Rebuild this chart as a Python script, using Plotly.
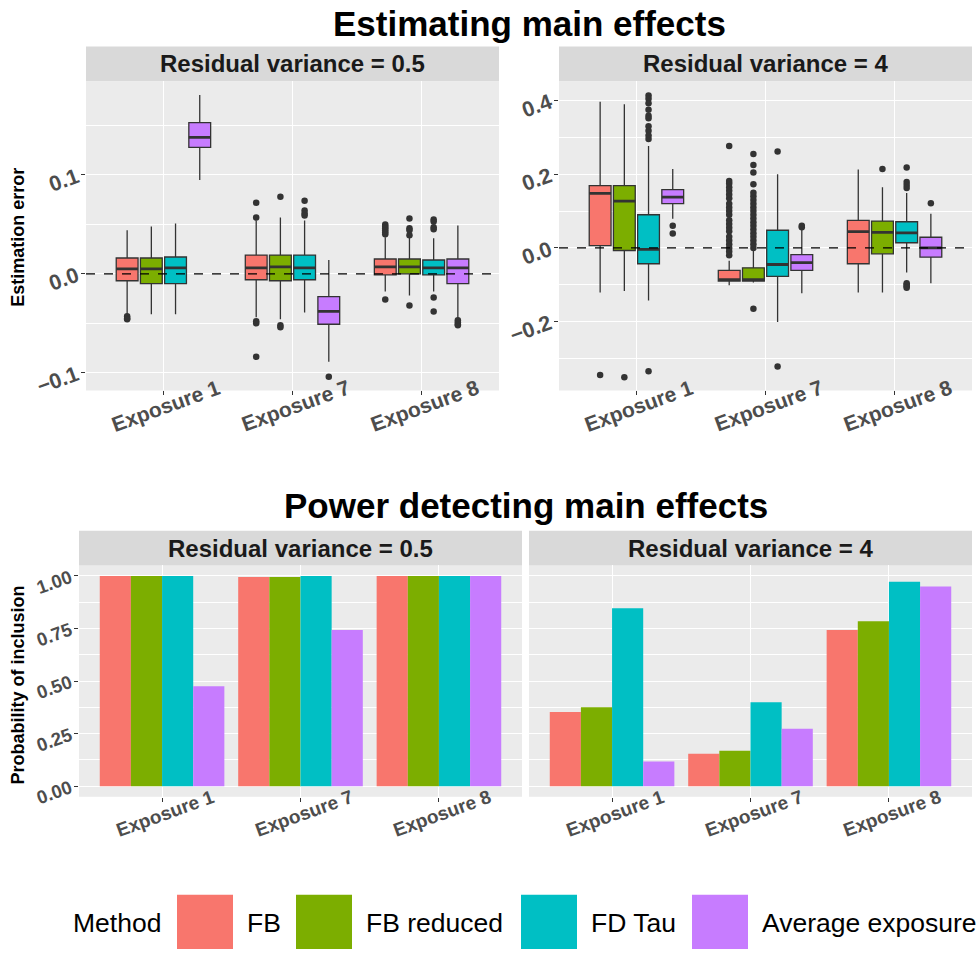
import plotly.graph_objects as go

# ---------------- data ----------------
exposures = ["Exposure 1", "Exposure 7", "Exposure 8"]
methods = ["FB", "FB reduced", "FD Tau", "Average exposure"]
method_colors = ["#F8766D", "#7CAE00", "#00BFC4", "#C77CFF"]
panels = ["Residual variance = 0.5", "Residual variance = 4"]

# estimation error summaries, rows = exposure, columns = method
q1_v05 = [[-0.007, -0.010, -0.010, 0.128], [-0.006, -0.007, -0.006, -0.051], [-0.001, 0.000, -0.001, -0.010]]
med_v05 = [[0.005, 0.005, 0.006, 0.138], [0.006, 0.007, 0.006, -0.038], [0.007, 0.007, 0.006, 0.006]]
q3_v05 = [[0.016, 0.016, 0.017, 0.153], [0.019, 0.019, 0.019, -0.023], [0.015, 0.015, 0.014, 0.015]]
lo_v05 = [[-0.041, -0.041, -0.041, 0.095], [-0.044, -0.046, -0.039, -0.089], [-0.018, -0.022, -0.018, -0.045]]
hi_v05 = [[0.044, 0.048, 0.051, 0.181], [0.054, 0.057, 0.054, 0.014], [0.037, 0.037, 0.036, 0.049]]
out_v05 = [
    [[-0.043, -0.045, -0.046], [], [], []],
    [[0.072, 0.057, -0.048, -0.050, -0.084], [0.078, -0.052, -0.054], [0.074, 0.064, 0.061, 0.059], [-0.104]],
    [[0.050, 0.048, 0.046, 0.044, 0.042, 0.040, -0.026], [0.056, 0.046, 0.044, 0.039, -0.032],
     [0.055, 0.053, 0.047, 0.045, -0.024, -0.038], [-0.047, -0.049, -0.051, -0.052]],
]

q1_v4 = [[0.006, -0.007, -0.043, 0.120], [-0.090, -0.090, -0.077, -0.061], [-0.043, -0.016, 0.014, -0.025]]
med_v4 = [[0.148, 0.127, -0.004, 0.138], [-0.086, -0.086, -0.045, -0.040], [0.044, 0.042, 0.041, 0.000]]
q3_v4 = [[0.169, 0.169, 0.090, 0.158], [-0.061, -0.054, 0.048, -0.018], [0.075, 0.073, 0.071, 0.029]]
lo_v4 = [[-0.121, -0.117, -0.143, 0.079], [-0.101, -0.094, -0.201, -0.123], [-0.121, -0.121, -0.067, -0.096]]
hi_v4 = [[0.397, 0.390, 0.277, 0.214], [-0.035, -0.008, 0.200, 0.051], [0.213, 0.165, 0.149, 0.093]]
out_v4 = [
    [[-0.345], [-0.351],
     [0.414, 0.405, 0.393, 0.375, 0.359, 0.352, 0.330, 0.318, 0.305, 0.296, -0.335], [0.060, 0.039]],
    [[-0.020, -0.010, 0.000, 0.010, 0.020, 0.030, 0.045, 0.055, 0.065, 0.075, 0.090, 0.100, 0.110,
      0.120, 0.135, 0.145, 0.155, 0.165, 0.175, 0.182, 0.277],
     [0.000, 0.010, 0.020, 0.030, 0.040, 0.050, 0.060, 0.070, 0.080, 0.090, 0.100, 0.110, 0.120,
      0.130, 0.140, 0.150, 0.173, 0.205, 0.225, 0.255, -0.165],
     [0.262, -0.322], [0.056, 0.060]],
    [[], [0.214], [0.218, 0.179, 0.171, 0.163, -0.096, -0.100, -0.104, -0.108], [0.121]],
]

# probability of inclusion, rows = exposure, columns = method
power_v05 = [[1.000, 1.000, 1.000, 0.475], [0.995, 0.995, 1.000, 0.743], [1.000, 1.000, 1.000, 1.000]]
power_v4 = [[0.353, 0.376, 0.846, 0.118], [0.155, 0.169, 0.400, 0.273], [0.743, 0.785, 0.973, 0.950]]

# ---------------- layout helpers ----------------
W, H = 979, 960
FONT = "Liberation Sans, Arial, sans-serif"
TICK_GREY = "#4D4D4D"
DARK = "#333333"


def fx(p):
    return p / W


def fy(p):
    return 1 - p / H


cat_pos = [1, 2, 3]
box_step, box_w = 0.1875, 0.169
bar_step, bar_w = 0.225, 0.225

fig = go.Figure()


def add_boxes(q1, med, q3, lo, hi, outs, xa, ya):
    for j, (m, col) in enumerate(zip(methods, method_colors)):
        xs = [c + (j - 1.5) * box_step for c in cat_pos]
        fig.add_trace(go.Box(
            x=xs, q1=[r[j] for r in q1], median=[r[j] for r in med], q3=[r[j] for r in q3],
            lowerfence=[r[j] for r in lo], upperfence=[r[j] for r in hi],
            width=box_w, whiskerwidth=0, fillcolor=col, boxpoints=False,
            line=dict(color=DARK, width=1.3), xaxis=xa, yaxis=ya,
            showlegend=False, hoverinfo="skip"))
        # thicker median bar
        mx, my = [], []
        for i, x in enumerate(xs):
            mx += [x - box_w / 2, x + box_w / 2, None]
            my += [med[i][j], med[i][j], None]
        fig.add_trace(go.Scatter(x=mx, y=my, mode="lines", line=dict(color=DARK, width=2.8),
                                 xaxis=xa, yaxis=ya, showlegend=False, hoverinfo="skip"))
        # outlying points
        ox, oy = [], []
        for i, x in enumerate(xs):
            ox += [x] * len(outs[i][j])
            oy += outs[i][j]
        fig.add_trace(go.Scatter(x=ox, y=oy, mode="markers",
                                 marker=dict(color=DARK, size=6.5, line=dict(width=0)),
                                 xaxis=xa, yaxis=ya, showlegend=False, hoverinfo="skip"))


def add_bars(vals, xa, ya):
    for j, (m, col) in enumerate(zip(methods, method_colors)):
        xs = [c + (j - 1.5) * bar_step for c in cat_pos]
        fig.add_trace(go.Bar(x=xs, y=[r[j] for r in vals], width=bar_w, marker=dict(color=col, line=dict(width=0)),
                             name=m, xaxis=xa, yaxis=ya, showlegend=False, hoverinfo="skip"))


add_boxes(q1_v05, med_v05, q3_v05, lo_v05, hi_v05, out_v05, "x", "y")
add_boxes(q1_v4, med_v4, q3_v4, lo_v4, hi_v4, out_v4, "x2", "y2")
add_bars(power_v05, "x3", "y3")
add_bars(power_v4, "x4", "y4")

# panel rectangles in pixels: (left, right, top, bottom)
top_l = (86, 499, 82, 395)
top_r = (559, 972, 82, 395)
bot_l = (79, 522, 572, 806)
bot_r = (529, 972, 572, 806)


def xax(box):
    return dict(domain=[fx(box[0]), fx(box[1])], range=[0.4, 3.6], tickvals=cat_pos,
                showticklabels=False, ticks="outside", ticklen=4, tickcolor=DARK, tickwidth=1,
                showgrid=True, gridcolor="white", gridwidth=1.3, zeroline=False, showline=False)


def yax(box, rng, dtick, minor, fmt, fs, labels=True):
    return dict(domain=[fy(box[3]), fy(box[2])], range=rng, tickmode="linear", tick0=0, dtick=dtick,
                tickformat=fmt, showticklabels=labels, ticks="outside" if labels else "",
                ticklen=4, tickcolor=DARK, tickwidth=1, tickangle=-20,
                tickfont=dict(family=FONT, size=fs, color=TICK_GREY, weight="bold"),
                showgrid=True, gridcolor="white", gridwidth=1.3, zeroline=False, showline=False,
                minor=dict(dtick=minor, tick0=0, showgrid=True, gridcolor="white", gridwidth=0.6, ticks=""))


fig.update_layout(
    width=W, height=H, margin=dict(l=0, r=0, t=0, b=0),
    paper_bgcolor="white", plot_bgcolor="#EBEBEB",
    barmode="overlay", boxmode="overlay", showlegend=False,
    font=dict(family=FONT),
    xaxis=dict(xax(top_l), anchor="y"),
    yaxis=dict(yax(top_l, [-0.118, 0.195], 0.1, 0.05, ".1f", 21.5), anchor="x"),
    xaxis2=dict(xax(top_r), anchor="y2"),
    yaxis2=dict(yax(top_r, [-0.387, 0.453], 0.2, 0.1, ".1f", 21.5), anchor="x2"),
    xaxis3=dict(xax(bot_l), anchor="y3"),
    yaxis3=dict(yax(bot_l, [-0.05, 1.05], 0.25, 0.125, ".2f", 18.5), anchor="x3"),
    xaxis4=dict(xax(bot_r), anchor="y4"),
    yaxis4=dict(yax(bot_r, [-0.05, 1.05], 0.25, 0.125, ".2f", 18.5, labels=False), anchor="x4"),
)

shapes, annotations = [], []

# dashed reference line at zero for the error panels
for ya, xa in (("y", "x"), ("y2", "x2")):
    shapes.append(dict(type="line", xref=f"{xa} domain", yref=ya, x0=0, x1=1, y0=0, y1=0,
                       line=dict(color="black", width=1.3, dash="dash"), layer="above"))

# facet strips
for box, label in ((top_l, panels[0]), (top_r, panels[1]), (bot_l, panels[0]), (bot_r, panels[1])):
    shapes.append(dict(type="rect", xref="paper", yref="paper", x0=fx(box[0]), x1=fx(box[1]),
                       y0=fy(box[2]), y1=fy(box[2] - 35), fillcolor="#D9D9D9", line=dict(width=0),
                       layer="below"))
    annotations.append(dict(text=label, xref="paper", yref="paper", x=fx((box[0] + box[1]) / 2),
                            y=fy(box[2] - 17.5), xanchor="center", yanchor="middle", showarrow=False,
                            font=dict(family=FONT, size=24, color="#1A1A1A", weight="bold")))

# rotated category labels
for xa, ypix, fs in (("x", 410, 21), ("x2", 410, 21), ("x3", 823, 19), ("x4", 823, 19)):
    for c, lab in zip(cat_pos, exposures):
        annotations.append(dict(text=lab, xref=xa, yref="paper", x=c, y=fy(ypix), xshift=3,
                                xanchor="center", yanchor="middle", textangle=-20, showarrow=False,
                                font=dict(family=FONT, size=fs, color=TICK_GREY, weight="bold")))

# titles
annotations.append(dict(text="Estimating main effects", xref="paper", yref="paper", x=fx(529), y=fy(24),
                        xanchor="center", yanchor="middle", showarrow=False,
                        font=dict(family=FONT, size=35, color="black", weight="bold")))
annotations.append(dict(text="Power detecting main effects", xref="paper", yref="paper", x=fx(526), y=fy(511),
                        xanchor="center", yanchor="middle", showarrow=False,
                        font=dict(family=FONT, size=35, color="black", weight="bold")))

# axis titles
annotations.append(dict(text="Estimation error", xref="paper", yref="paper", x=fx(18.5), y=fy(240),
                        xanchor="center", yanchor="middle", textangle=-90, showarrow=False,
                        font=dict(family=FONT, size=18, color="black", weight="bold")))
annotations.append(dict(text="Probability of inclusion", xref="paper", yref="paper", x=fx(18.5), y=fy(693),
                        xanchor="center", yanchor="middle", textangle=-90, showarrow=False,
                        font=dict(family=FONT, size=18, color="black", weight="bold")))

# legend
legend_y = 934
annotations.append(dict(text="Method", xref="paper", yref="paper", x=fx(71), y=fy(legend_y),
                        xanchor="left", yanchor="middle", showarrow=False,
                        font=dict(family=FONT, size=26.5, color="black")))
swatch_left = [177, 296, 521, 692]
for m, col, left in zip(methods, method_colors, swatch_left):
    shapes.append(dict(type="rect", xref="paper", yref="paper", x0=fx(left), x1=fx(left + 56),
                       y0=fy(960), y1=fy(905), fillcolor=col, line=dict(width=0)))
    annotations.append(dict(text=m, xref="paper", yref="paper", x=fx(left + 68), y=fy(legend_y),
                            xanchor="left", yanchor="middle", showarrow=False,
                            font=dict(family=FONT, size=26.5, color="black")))

fig.update_layout(shapes=shapes, annotations=annotations)
fig.write_html("out.html")
